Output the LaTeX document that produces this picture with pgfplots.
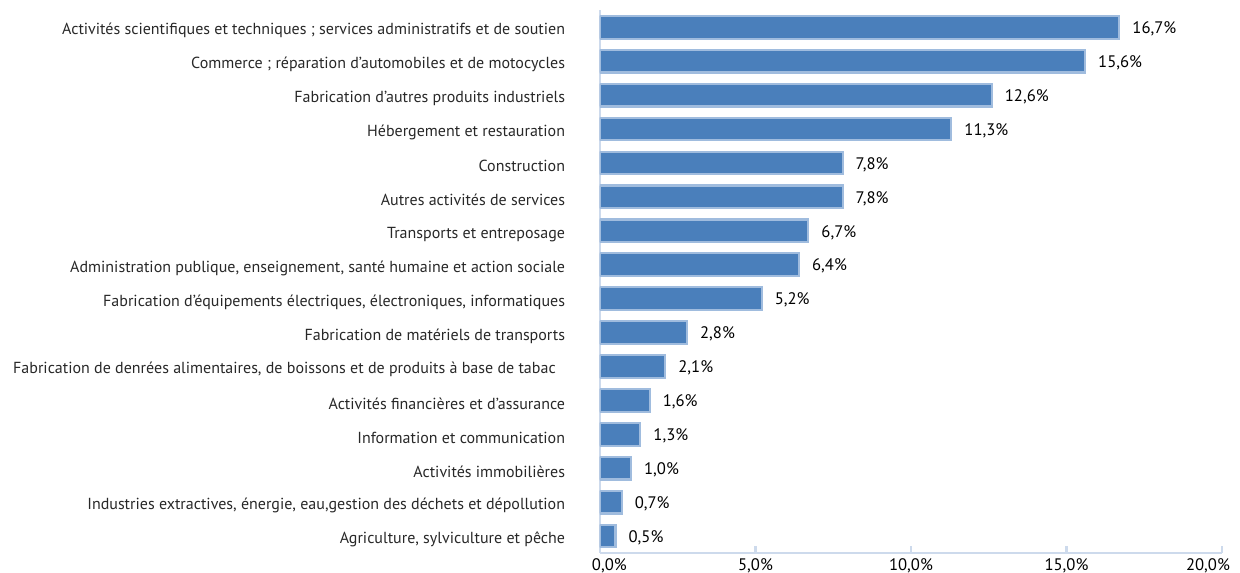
\documentclass[border=0pt]{standalone}
\usepackage{fontspec}
\setmainfont{PT Sans}
\usepackage{pgfplots}
\pgfplotsset{compat=1.18}
\definecolor{barfill}{RGB}{74,127,187}
\definecolor{barline}{RGB}{160,188,222}
\definecolor{axline}{RGB}{205,218,236}
\definecolor{txt}{RGB}{40,40,40}
\begin{document}
\fontsize{12}{14}\selectfont
\begin{tikzpicture}
\begin{axis}[
  at={(0,0)}, anchor=south west, scale only axis,
  width=466.5pt, height=407pt,
  xmin=0, xmax=20, ymin=-0.5, ymax=15.5,
  xbar, bar width=17pt,
  axis x line*=bottom, axis y line*=left,
  axis line style={axline, line width=2pt, -},
  /pgf/number format/.cd, use comma, fixed, fixed zerofill, precision=1, assume math mode=true,
  /pgfplots/.cd,
  xtick={0,5,10,15,20},
  xticklabels={{\hspace*{14pt}0,0\%},{5,0\%},{10,0\%},{15,0\%},{20,0\%\hspace*{21pt}}},
  tick align=inside, major tick length=5pt,
  xtick style={axline, line width=2pt},
  ytick style={draw=none},
  ytick={0,...,15},
  yticklabels={
    {Agriculture, sylviculture et pêche},
    {Industries extractives, énergie, eau,gestion des déchets et dépollution},
    {Activités immobilières},
    {Information et communication},
    {Activités financières et d’assurance},
    {Fabrication de denrées alimentaires, de boissons et de produits  à base de tabac\hspace*{7pt}},
    {Fabrication de matériels de transports},
    {Fabrication d’équipements électriques, électroniques, informatiques},
    {Administration publique, enseignement, santé humaine et action sociale},
    {Transports et entreposage},
    {Autres activités de services},
    {Construction},
    {Hébergement et restauration},
    {Fabrication d’autres produits industriels},
    {Commerce ; réparation d’automobiles et de motocycles},
    {Activités scientifiques et techniques ; services administratifs et de soutien}},
  yticklabel style={text=txt, xshift=-22pt, yshift=-2.5pt},
  xticklabel style={text=black, font=\fontsize{12.5}{14}\selectfont},
  nodes near coords={\pgfmathprintnumber{\pgfplotspointmeta}\%},
  nodes near coords style={anchor=west, xshift=5pt, yshift=-1.2pt, text=black, font=\fontsize{12.5}{14}\selectfont},
]
\addplot[fill=barfill, draw=barline, line width=1.6pt] coordinates {
  (0.5,0) (0.7,1) (1.0,2) (1.3,3) (1.6,4) (2.1,5) (2.8,6) (5.2,7)
  (6.4,8) (6.7,9) (7.8,10) (7.8,11) (11.3,12) (12.6,13) (15.6,14) (16.7,15)
};
\end{axis}
\pgfresetboundingbox
\useasboundingbox (-450pt,-15pt) rectangle (480pt,414.75pt);
\end{tikzpicture}
\end{document}
